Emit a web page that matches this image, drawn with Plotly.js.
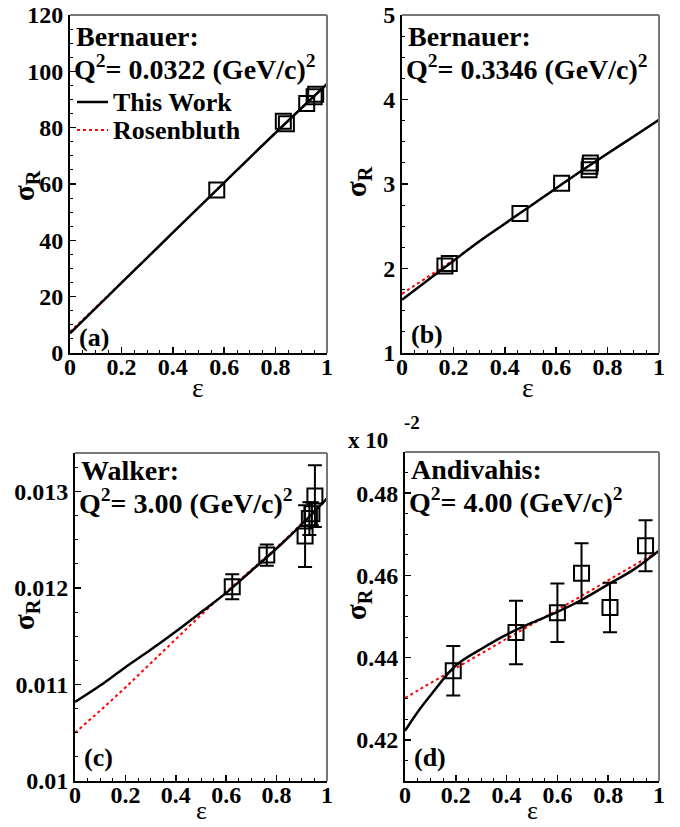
<!DOCTYPE html>
<html>
<head>
<meta charset="utf-8">
<script src="https://cdn.plot.ly/plotly-3.0.1.min.js"></script>
<style>html,body{margin:0;padding:0;background:#fff;}#chart{width:680px;height:827px;}</style>
</head>
<body>
<div id="chart"></div>
<script>
// ---------- data ----------
const curveEps = [0, 0.1, 0.2, 0.3, 0.4, 0.5, 0.6, 0.7, 0.8, 0.9, 1.0];

// (a) Bernauer Q2 = 0.0322
const epsA = [0.571, 0.830, 0.842, 0.921, 0.950, 0.956];
const sigA = [57.9, 82.3, 81.4, 88.6, 91.0, 91.9];
const workA = [7.0, 15.9, 24.9, 33.8, 42.7, 51.6, 60.5, 69.4, 78.2, 86.9, 95.5];
const rosA  = [7.5, 16.2, 25.0, 33.8, 42.7, 51.6, 60.5, 69.4, 78.2, 86.9, 95.5];

// (b) Bernauer Q2 = 0.3346
const epsB = [0.167, 0.184, 0.459, 0.621, 0.728, 0.731, 0.733];
const sigB = [2.03, 2.06, 2.65, 3.01, 3.17, 3.21, 3.25];
const workB = [1.63, 1.86, 2.09, 2.32, 2.53, 2.74, 2.95, 3.16, 3.36, 3.56, 3.76];
const rosB  = [1.70, 1.90, 2.10, 2.32, 2.53, 2.74, 2.95, 3.16, 3.36, 3.56, 3.76];

// (c) Walker Q2 = 3.00
const epsC = [0.624, 0.761, 0.913, 0.930, 0.940, 0.952];
const sigC = [0.012013, 0.012342, 0.012539, 0.012720, 0.012770, 0.012953];
const errC = [0.00013, 0.00011, 0.00032, 0.00017, 0.00012, 0.00032];
const workC = [0.01082, 0.01099, 0.01118, 0.01136, 0.01155, 0.01175, 0.01195, 0.01218, 0.01241, 0.01266, 0.01293];
const rosC  = [0.01050, 0.01073, 0.01097, 0.01122, 0.01147, 0.01172, 0.01196, 0.01219, 0.01242, 0.01267, 0.01293];

// (d) Andivahis Q2 = 4.00  (x 10^-2)
const epsD = [0.190, 0.437, 0.600, 0.695, 0.807, 0.947];
const sigD = [0.4368, 0.4461, 0.4509, 0.4605, 0.4522, 0.4672];
const errD = [0.0060, 0.0077, 0.0071, 0.0073, 0.0060, 0.0062];
const epsCurveD = [0, 0.05, 0.1, 0.2, 0.3, 0.4, 0.5, 0.6, 0.7, 0.8, 0.9, 1.0];
const workD = [0.4222, 0.4268, 0.4308, 0.4381, 0.4421, 0.4456, 0.4485, 0.4511, 0.4542, 0.4578, 0.4614, 0.4660];
const rosD  = [0.4302, 0.4320, 0.4338, 0.4374, 0.4410, 0.4446, 0.4481, 0.4516, 0.4552, 0.4588, 0.4624, 0.4659];

const xTicks = [0, 0.2, 0.4, 0.6, 0.8, 1];
const legendNames = ['This Work', 'Rosenbluth'];

// ---------- styling ----------
const FONT = 'Liberation Serif';
const lineWork = {color: 'black', width: 2.5, shape: 'spline'};
const lineRos = {color: '#ff0000', width: 2, dash: 'dot', shape: 'spline'};
const mk = {symbol: 'square-open', size: 15, color: 'black', line: {width: 2, color: 'black'}};

function pts(x, y, xa, ya, err) {
  const t = {x: x, y: y, xaxis: xa, yaxis: ya, mode: 'markers', marker: mk,
             showlegend: false, hoverinfo: 'x+y', cliponaxis: false};
  if (err) t.error_y = {type: 'data', array: err, visible: true, color: 'black', thickness: 2, width: 7};
  return t;
}
function curve(x, y, xa, ya, line, name) {
  return {x: x, y: y, xaxis: xa, yaxis: ya, mode: 'lines', line: line, name: name, showlegend: false};
}

const data = [
  curve(curveEps, rosA, 'x', 'y', lineRos, legendNames[1]),
  curve(curveEps, workA, 'x', 'y', lineWork, legendNames[0]),
  pts(epsA, sigA, 'x', 'y'),

  curve(curveEps, rosB, 'x2', 'y2', lineRos, legendNames[1]),
  curve(curveEps, workB, 'x2', 'y2', lineWork, legendNames[0]),
  pts(epsB, sigB, 'x2', 'y2'),

  curve(curveEps, rosC, 'x3', 'y3', lineRos, legendNames[1]),
  curve(curveEps, workC, 'x3', 'y3', lineWork, legendNames[0]),
  pts(epsC, sigC, 'x3', 'y3', errC),

  curve(epsCurveD, rosD, 'x4', 'y4', lineRos, legendNames[1]),
  curve(epsCurveD, workD, 'x4', 'y4', lineWork, legendNames[0]),
  pts(epsD, sigD, 'x4', 'y4', errD)
];

const W = 680, H = 827;
function px(v) { return v / W; }
function py(v) { return 1 - v / H; }

function tf() { return {family: FONT, size: 24, color: 'black', weight: 'bold'}; }
function xax(l, r, anchor) {
  return {domain: [px(l), px(r)], range: [0, 1], anchor: anchor,
    tickvals: xTicks, ticks: 'inside', ticklen: 6, tickwidth: 1.5, tickcolor: 'black',
    minor: {dtick: 0.05, tick0: 0, ticks: 'inside', ticklen: 3, tickwidth: 1, tickcolor: 'black'},
    showline: true, linecolor: 'black', linewidth: 2, showgrid: false, zeroline: false,
    tickfont: tf(), ticklabelstandoff: -9};
}
function yax(t, b, anchor, range, dtick, tick0) {
  return {domain: [py(b), py(t)], range: range, anchor: anchor,
    dtick: dtick, tick0: tick0, ticks: 'inside', ticklen: 6, tickwidth: 1.5, tickcolor: 'black',
    minor: {dtick: dtick / 4, tick0: tick0, ticks: 'inside', ticklen: 3, tickwidth: 1, tickcolor: 'black'},
    showline: true, linecolor: 'black', linewidth: 2, showgrid: false, zeroline: false,
    tickfont: tf()};
}

const boxes = [[70, 327, 15, 353], [402, 659, 15, 353], [75, 327, 453, 781], [405, 659, 452, 781]];
const shapes = [];
boxes.forEach(b => {
  shapes.push({type: 'line', xref: 'paper', yref: 'paper', x0: px(b[0]), x1: px(b[1]), y0: py(b[2]), y1: py(b[2]),
               line: {color: '#777', width: 2}});
  shapes.push({type: 'line', xref: 'paper', yref: 'paper', x0: px(b[1]), x1: px(b[1]), y0: py(b[2]), y1: py(b[3]),
               line: {color: '#777', width: 2}});
});
// legend samples (panel a)
shapes.push({type: 'line', xref: 'paper', yref: 'paper', x0: px(77), x1: px(108), y0: py(102), y1: py(102),
             line: {color: 'black', width: 2.5}});
shapes.push({type: 'line', xref: 'paper', yref: 'paper', x0: px(77), x1: px(108), y0: py(130), y1: py(130),
             line: {color: '#ff0000', width: 2, dash: 'dot'}});

function ann(text, x, y, size, opts) {
  return Object.assign({text: text, xref: 'paper', yref: 'paper', x: px(x), y: py(y),
    xanchor: 'left', yanchor: 'middle', showarrow: false,
    font: {family: FONT, size: size, color: 'black', weight: 'bold'}}, opts || {});
}
const plainFont = s => ({family: FONT, size: s, color: 'black'});
const annotations = [
  ann('Bernauer:', 74, 36, 28),
  ann('Q<sup>2</sup>= 0.0322 (GeV/c)<sup>2</sup>', 72, 68, 28),
  ann('Bernauer:', 406, 36, 28),
  ann('Q<sup>2</sup>= 0.3346 (GeV/c)<sup>2</sup>', 404, 68, 28),
  ann('Walker:', 79, 470, 28),
  ann('Q<sup>2</sup>= 3.00 (GeV/c)<sup>2</sup>', 77, 501, 28),
  ann('Andivahis:', 409, 469, 28),
  ann('Q<sup>2</sup>= 4.00 (GeV/c)<sup>2</sup>', 407, 500, 28),
  ann(legendNames[0], 111, 102, 26),
  ann(legendNames[1], 111, 130, 26),
  ann('(a)', 77, 337, 26),
  ann('(b)', 409, 334, 26),
  ann('(c)', 82, 757, 26),
  ann('(d)', 412, 757, 26),
  ann('x 10', 346, 440, 23),
  ann('-2', 402, 423, 19),
  // axis titles
  ann('ε', 198, 387, 28, {xanchor: 'center', font: plainFont(28)}),
  ann('ε', 528, 387, 28, {xanchor: 'center', font: plainFont(28)}),
  ann('ε', 201, 810, 26, {xanchor: 'center', font: plainFont(26)}),
  ann('ε', 532, 810, 26, {xanchor: 'center', font: plainFont(26)}),
  ann('σ<sub>R</sub>', 26, 186, 29, {xanchor: 'center', textangle: -90}),
  ann('σ<sub>R</sub>', 358, 182, 29, {xanchor: 'center', textangle: -90}),
  ann('σ<sub>R</sub>', 26, 615, 29, {xanchor: 'center', textangle: -90}),
  ann('σ<sub>R</sub>', 358, 605, 29, {xanchor: 'center', textangle: -90})
];

const layout = {
  width: W, height: H,
  margin: {l: 0, r: 0, t: 0, b: 0},
  paper_bgcolor: 'white', plot_bgcolor: 'white',
  font: {family: FONT, color: 'black'},
  showlegend: false,
  xaxis: xax(70, 327, 'y'),
  yaxis: yax(15, 353, 'x', [0, 120], 20, 0),
  xaxis2: xax(402, 659, 'y2'),
  yaxis2: yax(15, 353, 'x2', [1, 5], 1, 0),
  xaxis3: xax(75, 327, 'y3'),
  yaxis3: yax(453, 781, 'x3', [0.01, 0.0134], 0.001, 0),
  xaxis4: xax(405, 659, 'y4'),
  yaxis4: yax(452, 781, 'x4', [0.41, 0.49], 0.02, 0),
  shapes: shapes,
  annotations: annotations
};

Plotly.newPlot('chart', data, layout, {staticPlot: true, displayModeBar: false});
</script>
</body>
</html>
